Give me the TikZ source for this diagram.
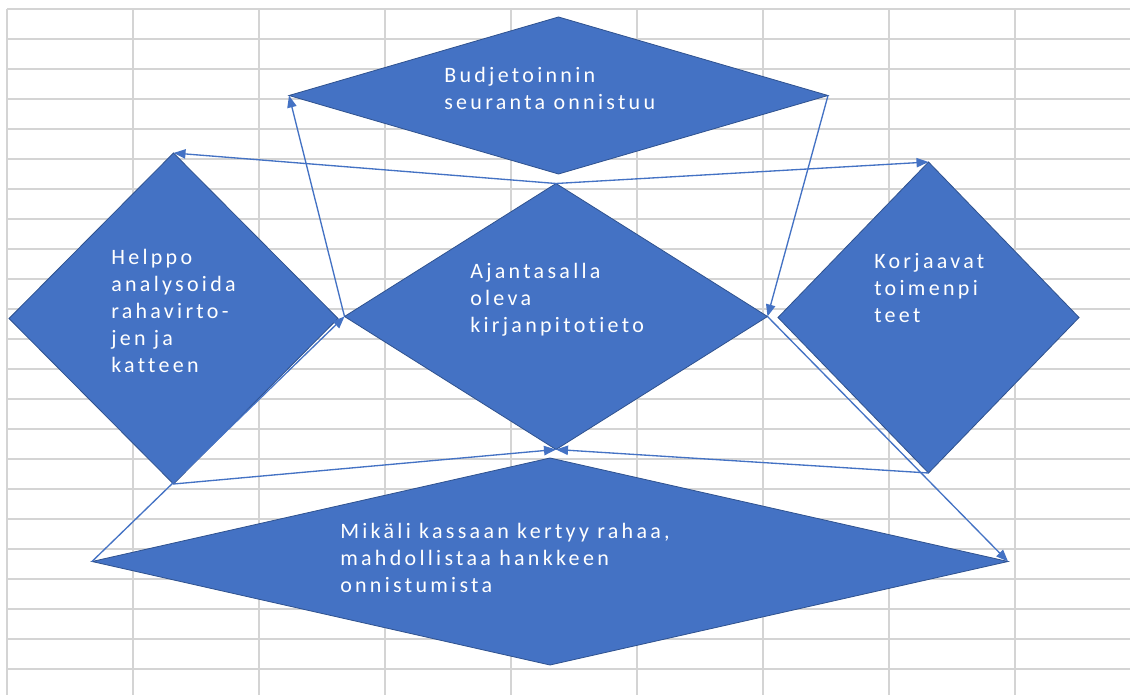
\documentclass[tikz,border=0pt]{standalone}
\usepackage{fontspec}
\setmainfont{Carlito}
\newfontfamily\labelfont[LetterSpace=15,Ligatures={NoCommon}]{Carlito}
\usetikzlibrary{shapes.geometric,arrows.meta}
\definecolor{cellgrid}{HTML}{D4D4D4}
\definecolor{shapefill}{HTML}{4472C4}
\definecolor{shapeedge}{HTML}{2F528F}
\begin{document}
\begin{tikzpicture}[x=0.75pt,y=-0.75pt,
  gridline/.style={draw=cellgrid,line width=1.1pt},
  decision/.style={diamond,fill=shapefill,draw=shapeedge,line width=0.6pt,
    inner sep=0pt,outer sep=0pt},
  % anchored at the baseline of the last line
  caption/.style={anchor=base west,inner sep=0pt,align=left,text=white,
    font=\labelfont\fontsize{16.5}{20.25}\selectfont},
  link/.style={draw=shapefill,line width=1pt,-{Triangle[length=9pt,width=7pt]}}]
\useasboundingbox (0,0) rectangle (1130,695);
\fill[white] (0,0) rectangle (1130,695);
% worksheet cell grid
\foreach \k in {0,...,8}
  \draw[gridline] ({7+126*\k},9) -- ({7+126*\k},695);
\foreach \k in {0,...,22}
  \draw[gridline] (7,{9+30*\k}) -- (1130,{9+30*\k});
% decision shapes
\node[decision,minimum width=404.25pt,minimum height=117.75pt] (top) at (558.5,95.5) {};
\node[decision,minimum width=246.75pt,minimum height=248.25pt] (left) at (173.5,318.5) {};
\node[decision,minimum width=317.25pt,minimum height=199.5pt] (mid) at (556,316.5) {};
\node[decision,minimum width=225.75pt,minimum height=233.25pt] (right) at (928.5,317.5) {};
\node[decision,minimum width=687pt,minimum height=155.25pt] (bottom) at (550,561.5) {};
% labels
\node[caption] (ttop) at (444,110) {Budjetoinnin\\seuranta onnistuu};
\node[caption] (tleft) at (111,372) {Helppo\\analysoida\\rahavirto-\\jen ja\\katteen};
\node[caption] (tmid) at (470,332) {Ajantasalla\\oleva\\kirjanpitotieto};
\node[caption] (tright) at (874,322) {Korjaavat\\toimenpi\\teet};
\node[caption] (tbottom) at (340,592) {Mikäli kassaan kertyy rahaa,\\mahdollistaa hankkeen\\onnistumista};
% connectors
\draw[link] (mid.north) -- (left.north);
\draw[link] (mid.north) -- (right.north);
\draw[link] (mid.west) -- (top.west);
\draw[link] (top.east) -- (mid.east);
\draw[link] (left.south) -- (mid.south);
\draw[link] (right.south) -- (mid.south);
\draw[link] (bottom.west) -- (mid.west);
\draw[link] (mid.east) -- (bottom.east);
\end{tikzpicture}
\end{document}
